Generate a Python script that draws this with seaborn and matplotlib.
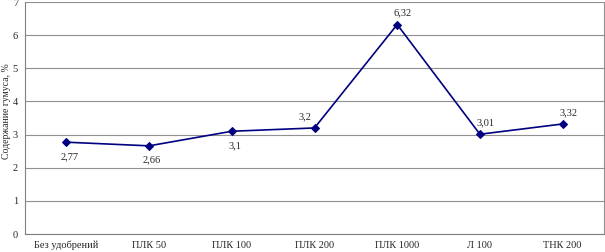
import matplotlib
matplotlib.use("Agg")
import matplotlib.pyplot as plt
import seaborn as sns
import pandas as pd
import numpy as np

categories = ["Без удобрений", "ПЛК 50", "ПЛК 100", "ПЛК 200", "ПЛК 1000", "Л 100", "ТНК 200"]
values = [2.77, 2.66, 3.1, 3.2, 6.32, 3.01, 3.32]
labels = ["2,77", "2,66", "3,1", "3,2", "6,32", "3,01", "3,32"]
label_pos = ["below", "below", "below", "above", "above", "above", "above"]
yticks = [0, 1, 2, 3, 4, 5, 6, 7]

sns.set_style("white")
plt.rcParams['font.family'] = ['Liberation Serif', 'DejaVu Serif']

df = pd.DataFrame({"cat": categories, "val": values, "x": np.arange(len(categories))})

fig = plt.figure(figsize=(6.05, 2.52), dpi=100)
ax = fig.add_axes([25/605, 18/252, 579/605, 232/252])

sns.lineplot(data=df, x="x", y="val", ax=ax, color="#000080", marker="D",
             markersize=4, markeredgecolor="#000080", linewidth=1.2)

for xi, v, t, p in zip(df["x"], values, labels, label_pos):
    if p == "below":
        ax.annotate(t, (xi, v), xytext=(2, -7), textcoords="offset points",
                    ha="center", va="top", fontsize=7.5)
    else:
        dx = -7 if t == "3,2" else 4
        ax.annotate(t, (xi, v), xytext=(dx, 5), textcoords="offset points",
                    ha="center", va="bottom", fontsize=7.5)

ax.set_xlim(-0.5, len(categories) - 0.5)
ax.set_ylim(0, 7)
ax.set_yticks(yticks)
ax.set_yticklabels([str(t) for t in yticks], fontsize=7.5)
ax.set_xticks(df["x"])
ax.set_xticklabels(categories, fontsize=7.5)
ax.set_xticks(np.arange(-0.5, len(categories) + 0.5, 1), minor=True)
ax.tick_params(axis="x", which="major", length=0, pad=5)
ax.tick_params(axis="x", which="minor", length=3, width=0.8, color="#808080", direction="out")
ax.tick_params(axis="y", length=3, width=0.8, color="#808080", direction="out", pad=2)
ax.grid(axis="y", color="#909090", linewidth=0.8)
ax.set_axisbelow(True)
ax.spines["top"].set_visible(False)
ax.spines["right"].set_color("#909090")
ax.spines["left"].set_color("#808080")
ax.spines["bottom"].set_color("#808080")
ax.set_xlabel("")
ax.set_ylabel("Содержание гумуса, %", fontsize=7)
ax.yaxis.set_label_coords(-0.025, 0.53)

fig.savefig("out.png", dpi=100)
